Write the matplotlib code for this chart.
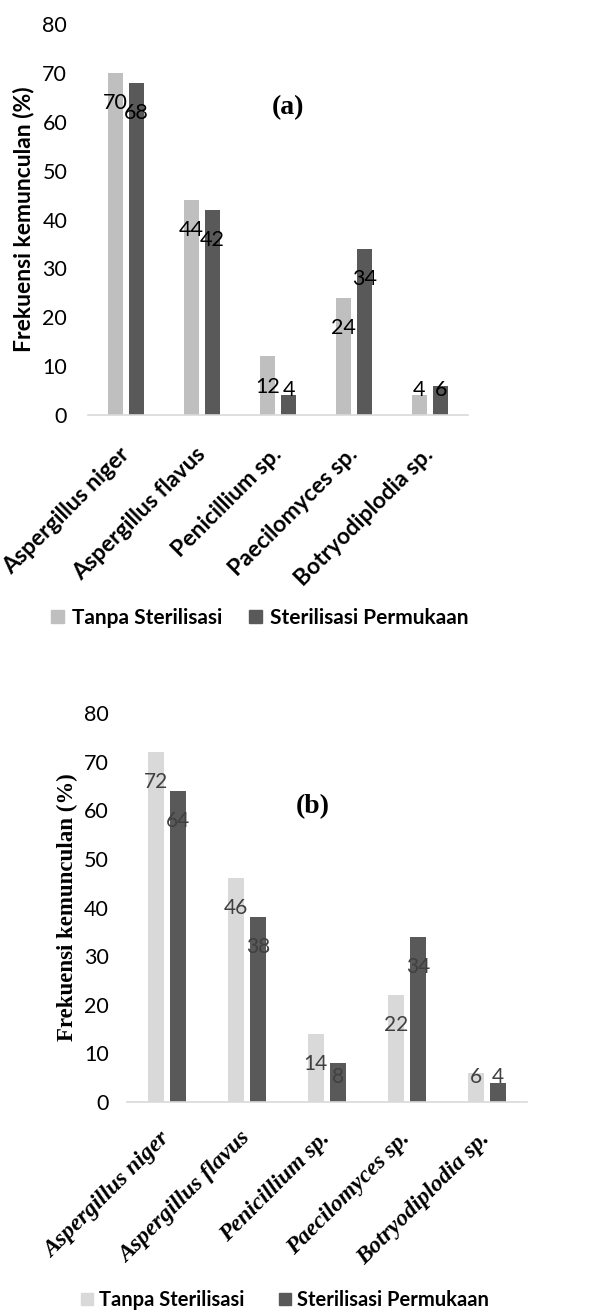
import matplotlib
matplotlib.use("Agg")
import matplotlib.pyplot as plt
import numpy as np
from matplotlib.patches import Patch

kategori = [
    "Aspergillus niger",
    "Aspergillus flavus",
    "Penicillium sp.",
    "Paecilomyces sp.",
    "Botryodiplodia sp.",
]
seri = ["Tanpa Sterilisasi", "Sterilisasi Permukaan"]
tanpa_a = [70, 44, 12, 24, 4]
permukaan_a = [68, 42, 4, 34, 6]
tanpa_b = [72, 46, 14, 22, 6]
permukaan_b = [64, 38, 8, 34, 4]
yticks = [0, 10, 20, 30, 40, 50, 60, 70, 80]

SANS = "Lato"
SERIF = "Liberation Serif"
GELAP = "#595959"


def gambar_panel(ax, nilai1, nilai2, warna_terang, warna_label, huruf, huruf_pos,
                 font_ylabel, font_xtick, ylabel_x, tick_pad, xtick_pad, ukuran_label):
    x = np.arange(len(kategori))
    lebar = 0.2
    b1 = ax.bar(x - 0.14, nilai1, lebar, color=warna_terang)
    b2 = ax.bar(x + 0.14, nilai2, lebar, color=GELAP)

    # label nilai sedikit di bawah ujung batang
    for bars, nilai in ((b1, nilai1), (b2, nilai2)):
        for b, v in zip(bars, nilai):
            ax.text(b.get_x() + b.get_width() / 2, max(v - 6.2, 5.2), str(v),
                    ha="center", va="center", fontsize=ukuran_label,
                    color=warna_label, family=SANS)

    ax.set_xlim(-0.5, len(kategori) - 0.5)
    ax.set_ylim(0, 80)
    ax.set_yticks(yticks)
    ax.tick_params(axis="y", length=0, pad=tick_pad, labelsize=15.5)
    ax.tick_params(axis="x", length=0, pad=xtick_pad)
    for lbl in ax.get_yticklabels():
        lbl.set_family(SANS)
    ax.set_xticks(x)
    ax.set_xticklabels(kategori, rotation=45, ha="right", va="center",
                       rotation_mode="anchor", **font_xtick)

    for s in ("top", "right", "left"):
        ax.spines[s].set_visible(False)
    ax.spines["bottom"].set_color("#D9D9D9")
    ax.spines["bottom"].set_linewidth(1.2)

    ax.set_ylabel("Frekuensi kemunculan (%)", **font_ylabel)
    ax.yaxis.set_label_coords(ylabel_x, 0.5)

    ax.text(huruf_pos[0], huruf_pos[1], huruf, transform=ax.transAxes,
            ha="center", va="center", family=SERIF, fontweight="bold", fontsize=20)


fig = plt.figure(figsize=(5.99, 13.12), dpi=100)

ax_a = fig.add_axes([88 / 599, 1 - 415 / 1312, 380 / 599, 391 / 1312])
gambar_panel(
    ax_a, tanpa_a, permukaan_a, "#BFBFBF", "black", "(a)", ((288 - 88) / 380, (415 - 108) / 391),
    dict(family=SANS, fontweight="bold", fontsize=16.5),
    dict(family=SANS, fontweight="bold", fontsize=16.5),
    -0.14, 15, 26, 15.5,
)

ax_b = fig.add_axes([127 / 599, 1 - 1102 / 1312, 400 / 599, 389 / 1312])
gambar_panel(
    ax_b, tanpa_b, permukaan_b, "#D9D9D9", "#404040", "(b)", ((313 - 127) / 400, (1102 - 807) / 389),
    dict(family=SERIF, fontweight="bold", fontsize=16.5),
    dict(family=SERIF, fontweight="bold", fontstyle="italic", fontsize=17),
    -0.122, 13, 24, 15,
)

# legenda
h_a = [Patch(color="#BFBFBF"), Patch(color=GELAP)]
fig.legend(h_a, seri, loc="center", bbox_to_anchor=(260 / 599, 1 - 618 / 1312), ncol=2,
           frameon=False, handlelength=0.6, handleheight=0.6, handletextpad=0.4,
           columnspacing=1.3, prop=dict(family=SANS, weight="bold", size=15))

h_b = [Patch(color="#D9D9D9"), Patch(color=GELAP)]
fig.legend(h_b, seri, loc="center", bbox_to_anchor=(285 / 599, 1 - 1300 / 1312), ncol=2,
           frameon=False, handlelength=0.6, handleheight=0.6, handletextpad=0.3,
           columnspacing=1.7, prop=dict(family=SANS, weight="bold", size=14.5))

fig.savefig("out.png", dpi=100)
